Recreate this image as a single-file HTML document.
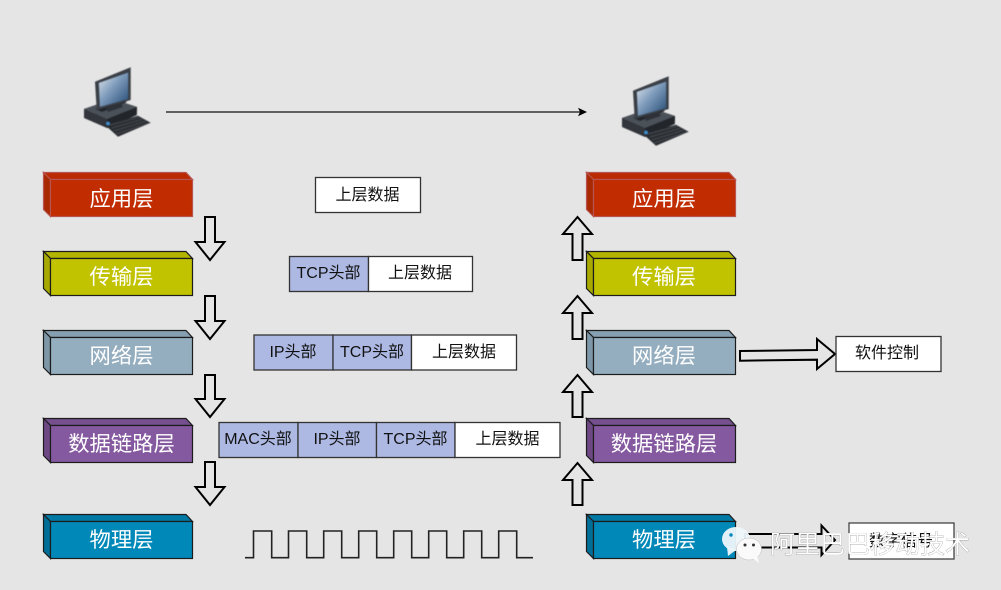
<!DOCTYPE html>
<html><head><meta charset="utf-8"><style>
html,body{margin:0;padding:0;background:#e5e5e5;width:1001px;height:590px;overflow:hidden}
svg{display:block}
.l{font-family:"Liberation Sans","WenQuanYi Zen Hei","Noto Sans CJK SC",sans-serif;font-size:21.3px;fill:#fff;text-anchor:middle}
.t{font-family:"Liberation Sans","WenQuanYi Zen Hei","Noto Sans CJK SC",sans-serif;font-size:16px;fill:#111;text-anchor:middle}
.a{fill:none;stroke:#000;stroke-width:2}
</style></head><body>
<svg width="1001" height="590" viewBox="0 0 1001 590" xmlns="http://www.w3.org/2000/svg">
<defs>
<linearGradient id="s" x1="0" y1="0" x2="1" y2="1"><stop offset="0" stop-color="#e4e9ef"/><stop offset=".45" stop-color="#7f9cbc"/><stop offset="1" stop-color="#234a73"/></linearGradient>
<filter id="b" x="-5%" y="-5%" width="110%" height="110%"><feGaussianBlur stdDeviation=".45"/></filter>
<g id="pc" filter="url(#b)">
<polygon points="84,109 113,99 137,107 136.700,115 107,128 84,118" fill="#30343a"/>
<polygon points="84,109 113,99 137,107 107,119" fill="#4b5159"/>
<polygon points="107,119 137,107 136.700,115 107,128" fill="#22252a"/>
<polygon points="95,109 122,100 127,102 102,112" fill="#24272c"/>
<polygon points="95,81.700 130.700,67.300 130.700,100 96.700,110" fill="#3a3f46"/>
<polygon points="99,83 128,72.700 128,99 100,106.700" fill="url(#s)"/>
<polygon points="106,108 121,103 123,107 108,112" fill="#2e3238"/>
<polygon points="105,125 138,115.700 150.700,122.700 118,136.700" fill="#2a2d32"/>
<g stroke="#4a4e55" stroke-width=".7"><line x1="110" y1="125" x2="140" y2="117"/><line x1="112" y1="128" x2="143" y2="119"/><line x1="114" y1="131" x2="146" y2="121"/><line x1="116" y1="134" x2="149" y2="123"/></g>
<circle cx="108" cy="123.500" r="1.800" fill="#3f8ecb"/>
</g>
</defs>
<rect width="1001" height="590" fill="#e5e5e5"/>

<use href="#pc"/>
<use href="#pc" x="538" y="9"/>
<line x1="166" y1="112" x2="581" y2="112" stroke="#111" stroke-width="1.200"/>
<polygon points="587,112 578,107.800 580,112 578,116.200" fill="#000"/>

<!-- left stack -->
<g stroke="#b85450" stroke-width="1.200"><polygon points="43.500,172.500 186,172.500 192.500,179.500 50.500,179.500" fill="#b92a00"/><polygon points="43.500,172.500 50.500,179.500 50.500,216.500 43.500,209.500" fill="#a82800"/><rect x="50.500" y="179.500" width="142" height="37" fill="#c12c00"/></g>
<text class="l" x="121.500" y="206">应用层</text>

<g stroke="#1c1c1c" stroke-width="1.200"><polygon points="43.500,251.500 186,251.500 192.500,258.500 50.500,258.500" fill="#b3b400"/><polygon points="43.500,251.500 50.500,258.500 50.500,295.500 43.500,288.500" fill="#a8a900"/><rect x="50.500" y="258.500" width="142" height="37" fill="#c1c200"/></g>
<text class="l" x="121.500" y="284">传输层</text>

<g stroke="#1c1c1c" stroke-width="1.200"><polygon points="43.500,330.500 186,330.500 192.500,337.500 50.500,337.500" fill="#86a0b2"/><polygon points="43.500,330.500 50.500,337.500 50.500,374.500 43.500,367.500" fill="#7d97a9"/><rect x="50.500" y="337.500" width="142" height="37" fill="#95aebf"/></g>
<text class="l" x="121.500" y="363">网络层</text>

<g stroke="#1c1c1c" stroke-width="1.200"><polygon points="43.500,418.500 186,418.500 192.500,425.500 50.500,425.500" fill="#764f8f"/><polygon points="43.500,418.500 50.500,425.500 50.500,462.500 43.500,455.500" fill="#6e4885"/><rect x="50.500" y="425.500" width="142" height="37" fill="#85599f"/></g>
<text class="l" x="121.500" y="451">数据链路层</text>

<g stroke="#1c1c1c" stroke-width="1.200"><polygon points="43.500,514.500 186,514.500 192.500,521.500 50.500,521.500" fill="#0079a5"/><polygon points="43.500,514.500 50.500,521.500 50.500,558.500 43.500,551.500" fill="#006f97"/><rect x="50.500" y="521.500" width="142" height="37" fill="#0088b8"/></g>
<text class="l" x="121.500" y="547">物理层</text>

<!-- right stack -->
<g stroke="#b85450" stroke-width="1.200"><polygon points="586.500,172.500 729,172.500 735.500,179.500 593.500,179.500" fill="#b92a00"/><polygon points="586.500,172.500 593.500,179.500 593.500,216.500 586.500,209.500" fill="#a82800"/><rect x="593.500" y="179.500" width="142" height="37" fill="#c12c00"/></g>
<text class="l" x="664" y="206">应用层</text>

<g stroke="#1c1c1c" stroke-width="1.200"><polygon points="586.500,251.500 729,251.500 735.500,258.500 593.500,258.500" fill="#b3b400"/><polygon points="586.500,251.500 593.500,258.500 593.500,295.500 586.500,288.500" fill="#a8a900"/><rect x="593.500" y="258.500" width="142" height="37" fill="#c1c200"/></g>
<text class="l" x="664" y="284">传输层</text>

<g stroke="#1c1c1c" stroke-width="1.200"><polygon points="586.500,330.500 729,330.500 735.500,337.500 593.500,337.500" fill="#86a0b2"/><polygon points="586.500,330.500 593.500,337.500 593.500,374.500 586.500,367.500" fill="#7d97a9"/><rect x="593.500" y="337.500" width="142" height="37" fill="#95aebf"/></g>
<text class="l" x="664" y="363">网络层</text>

<g stroke="#1c1c1c" stroke-width="1.200"><polygon points="586.500,418.500 729,418.500 735.500,425.500 593.500,425.500" fill="#764f8f"/><polygon points="586.500,418.500 593.500,425.500 593.500,462.500 586.500,455.500" fill="#6e4885"/><rect x="593.500" y="425.500" width="142" height="37" fill="#85599f"/></g>
<text class="l" x="664" y="451">数据链路层</text>

<g stroke="#1c1c1c" stroke-width="1.200"><polygon points="586.500,514.500 729,514.500 735.500,521.500 593.500,521.500" fill="#0079a5"/><polygon points="586.500,514.500 593.500,521.500 593.500,558.500 586.500,551.500" fill="#006f97"/><rect x="593.500" y="521.500" width="142" height="37" fill="#0088b8"/></g>
<text class="l" x="664" y="547">物理层</text>

<!-- down arrows -->
<polygon class="a" points="205,217 215,217 215,242 224.500,242 210,260 195.500,242 205,242"/>
<polygon class="a" points="205,296 215,296 215,321 224.500,321 210,339 195.500,321 205,321"/>
<polygon class="a" points="205,375 215,375 215,399 224.500,399 210,417 195.500,399 205,399"/>
<polygon class="a" points="205,462 215,462 215,487 224.500,487 210,505 195.500,487 205,487"/>
<!-- up arrows -->
<polygon class="a" points="577.500,217 592,234 582.500,234 582.500,260 572.500,260 572.500,234 563,234"/>
<polygon class="a" points="577.500,296 592,313 582.500,313 582.500,339 572.500,339 572.500,313 563,313"/>
<polygon class="a" points="577.500,375 592,392 582.500,392 582.500,417 572.500,417 572.500,392 563,392"/>
<polygon class="a" points="577.500,463 592,480 582.500,480 582.500,505 572.500,505 572.500,480 563,480"/>
<!-- right arrow -->
<polygon class="a" points="740,351 817,350 817,339 835,354 817,369 817,359.700 740,360.700"/>

<!-- data boxes -->
<g stroke="#333" stroke-width="1.300">
<rect x="315.500" y="177.500" width="105" height="35" fill="#fff"/>
<rect x="289.500" y="256.500" width="79" height="35" fill="#adb9e3"/><rect x="368.500" y="256.500" width="104" height="35" fill="#fff"/>
<rect x="254" y="335" width="79" height="35" fill="#adb9e3"/><rect x="333" y="335" width="78.500" height="35" fill="#adb9e3"/><rect x="411.500" y="335" width="105" height="35" fill="#fff"/>
<rect x="219" y="422.500" width="79" height="35" fill="#adb9e3"/><rect x="298" y="422.500" width="78.500" height="35" fill="#adb9e3"/><rect x="376.500" y="422.500" width="78.500" height="35" fill="#adb9e3"/><rect x="455" y="422.500" width="105" height="35" fill="#fff"/>
<rect x="836" y="336.500" width="105" height="35" fill="#fff"/>
</g>
<text class="t" x="367.500" y="200">上层数据</text>
<text class="t" x="328.500" y="278">TCP头部</text><text class="t" x="420" y="278">上层数据</text>
<text class="t" x="293" y="357">IP头部</text><text class="t" x="372" y="357">TCP头部</text><text class="t" x="464" y="357">上层数据</text>
<text class="t" x="258" y="444">MAC头部</text><text class="t" x="337" y="444">IP头部</text><text class="t" x="415.500" y="444">TCP头部</text><text class="t" x="507.500" y="444">上层数据</text>
<text class="t" x="887" y="358">软件控制</text>

<!-- square wave -->
<path d="M245,557.700H253.500V531H271.700V557.700H288.500V531H306.700V557.700H323.700V531H341.700V557.700H358.700V531H376.700V557.700H393.700V531H411.700V557.700H428.700V531H446.700V557.700H463.700V531H481.700V557.700H498.700V531H516.700V557.700H533" fill="none" stroke="#222" stroke-width="1.600"/>

<!-- physical output -->
<polygon class="a" points="745,534 821.500,534 821.500,525.500 835,540 821.500,555 821.500,547.500 745,547.500"/>
<rect x="849" y="523" width="105" height="36" fill="#fff" stroke="#444" stroke-width="1.300"/>
<text class="t" x="901" y="546">数字信号</text>

<!-- watermark -->
<ellipse cx="736" cy="539" rx="14" ry="12" fill="#eef7fb" opacity=".95"/>
<polygon points="727,547 728,556 736,550" fill="#eef7fb" opacity=".95"/>
<circle cx="731" cy="535" r="1.700" fill="#0088b8"/>
<ellipse cx="749" cy="549" rx="12.500" ry="11" fill="#fafafa" stroke="#bbb" stroke-width=".5"/>
<polygon points="752,558 759,563 757,555" fill="#fafafa"/>
<circle cx="745" cy="545" r="1.500" fill="#333"/><circle cx="753.500" cy="545" r="1.500" fill="#333"/>
<text x="770" y="553" style="font-family:'WenQuanYi Zen Hei','Noto Sans CJK SC',sans-serif;font-size:25px;fill:#fff;stroke:#666;stroke-width:.4;paint-order:stroke">阿里巴巴移动技术</text>
</svg>
</body></html>
